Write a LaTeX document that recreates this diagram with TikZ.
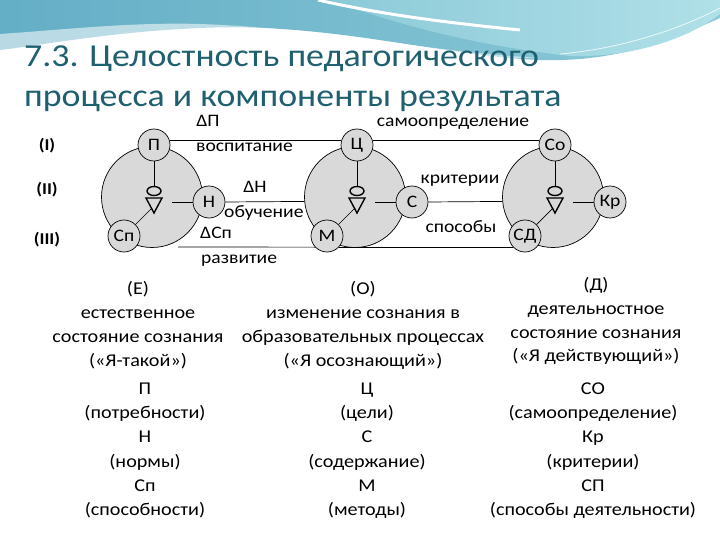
\documentclass[tikz,border=0pt]{standalone}
\usepackage{fontspec}
\setmainfont{Carlito}[FakeStretch=1.12]
\usetikzlibrary{shapes.geometric}
\definecolor{titlec}{RGB}{31,96,112}
\definecolor{circfill}{RGB}{217,217,217}
\definecolor{waveA}{RGB}{100,174,198}
\definecolor{waveB}{RGB}{140,202,216}
\definecolor{waveC}{RGB}{176,224,232}
\begin{document}
\begin{tikzpicture}[x=1pt,y=-1pt,
  big/.style={circle,draw,fill=circfill,minimum size=101pt,inner sep=0pt,line width=0.7pt},
  small/.style={circle,draw,fill=circfill,minimum size=32pt,inner sep=0pt,line width=0.7pt,font=\fontsize{17.5}{20}\selectfont},
  lbl/.style={font=\fontsize{17}{20}\selectfont,inner sep=0pt},
  txt/.style={font=\fontsize{18}{21}\selectfont,inner sep=0pt,anchor=base},
  dtxt/.style={font=\fontsize{17.5}{21}\selectfont,inner sep=0pt,anchor=base},
  conn/.style={line width=0.7pt},
  glyph/.style={line width=1.4pt}]
\useasboundingbox (0,0) rectangle (720,540);
\fill[white] (0,0) rectangle (720,540);
% background wave
\shade[left color=waveA,right color=waveB]
  (0,0) -- (720,0) -- (720,18) .. controls (660,45) and (610,62) .. (540,60)
  .. controls (440,56) and (330,22) .. (200,28) .. controls (110,32) and (50,44) .. (0,50) -- cycle;
\fill[white,opacity=0.55] (0,34) .. controls (60,30) and (130,22) .. (200,24)
  .. controls (320,28) and (430,52) .. (540,58) .. controls (440,60) and (330,34) .. (200,31)
  .. controls (110,34) and (50,46) .. (0,52) -- cycle;
\shade[left color=waveB,right color=waveC]
  (330,0) .. controls (400,26) and (480,46) .. (570,56) .. controls (640,58) and (695,34) .. (720,14) -- (720,0) -- cycle;
\draw[white,line width=3pt] (318,0) .. controls (380,14) and (440,22) .. (520,30);
\draw[white,line width=0.8pt,opacity=0.8] (560,54) .. controls (630,48) and (690,24) .. (720,8);
\draw[white,line width=0.6pt,opacity=0.8] (0,62) .. controls (80,46) and (200,36) .. (300,42);
% title
\node[anchor=base west,text=titlec,font=\fontsize{32}{38}\selectfont,inner sep=0pt] (title1) at (24,67) {7.3. Целостность педагогического};
\node[anchor=base west,text=titlec,font=\fontsize{32}{38}\selectfont,inner sep=0pt] (title2) at (24,107) {процесса и компоненты результата};
% level labels
\node[lbl,font=\fontsize{16.5}{20}\selectfont\bfseries] (lvl1) at (47,146) {(I)};
\node[lbl,font=\fontsize{16.5}{20}\selectfont\bfseries] (lvl2) at (47,190) {(II)};
\node[lbl,font=\fontsize{16.5}{20}\selectfont\bfseries] (lvl3) at (47,240) {(III)};
% three units
\foreach \g/\cx/\a/\b/\c in {1/152/П/Н/Сп,2/355/Ц/С/М,3/553/Со/Кр/СД}{
  \node[big] (B\g) at (\cx,197) {};
  \node[small] (T\g) at (\cx+2,145) {\a};
  \node[small] (R\g) at (\cx+57,202) {\b};
  \node[small] (L\g) at (\cx-28,236) {\c};
  \node[ellipse,draw,glyph,minimum width=14pt,minimum height=9pt,inner sep=0pt] (E\g) at (\cx+2,191) {};
  \draw[glyph,line join=miter] (\cx-6,198) -- (\cx+10,198) -- (\cx+2,213) -- cycle;
  \coordinate (vr\g) at (\cx+20,202);
  \coordinate (vl\g) at (\cx,208);
  \draw[conn] (T\g) -- (E\g);
  \draw[conn] (vr\g) -- (R\g);
  \draw[conn] (vl\g) -- (L\g);
}
% connectors between units
\draw[conn] (T1.18) -- (T2.162);
\draw[conn] (T2.18) -- (T3.162);
\draw[conn] (R1.east) -- (B2.185);
\draw[conn] (R2.east) -- (B3.185);
\coordinate (bstart) at (178,247);
\draw[conn] (bstart) -- (L2.223);
\draw[conn] (L2.317) -- (L3.223);
% connector labels
\node[dtxt] (dP) at (208,127) {ΔП};
\node[dtxt,anchor=base west] (vosp) at (196,152) {воспитание};
\node[dtxt] (dN) at (255,193) {ΔН};
\node[dtxt,anchor=base west] (obuch) at (224,218) {обучение};
\node[dtxt,anchor=base west] (dSp) at (200,239) {ΔСп};
\node[dtxt,anchor=base west] (razv) at (201,263) {развитие};
\node[dtxt] (samo) at (453,127) {самоопределение};
\node[dtxt] (krit) at (460,184) {критерии};
\node[dtxt] (sposob) at (461,233) {способы};
% result descriptions
\foreach \t [count=\i] in {(Е),естественное,состояние сознания,(«Я-такой»)}
  \node[txt] (ca\i) at (138,270+24*\i) {\t};
\foreach \t [count=\i] in {(О),изменение сознания в,образовательных процессах,(«Я осознающий»)}
  \node[txt] (cb\i) at (363,270+24*\i) {\t};
\foreach \t [count=\i] in {(Д),деятельностное,состояние сознания,(«Я действующий»)}
  \node[txt] (cc\i) at (596,267+23.7*\i) {\t};
% component lists
\foreach \t [count=\i] in {П,(потребности),Н,(нормы),Сп,(способности)}
  \node[txt] (la\i) at (145,370+24.3*\i) {\t};
\foreach \t [count=\i] in {Ц,(цели),С,(содержание),М,(методы)}
  \node[txt] (lb\i) at (367,370+24.3*\i) {\t};
\foreach \t [count=\i] in {СО,(самоопределение),Кр,(критерии),СП,(способы деятельности)}
  \node[txt] (lc\i) at (593,370+24.3*\i) {\t};
\end{tikzpicture}
\end{document}
